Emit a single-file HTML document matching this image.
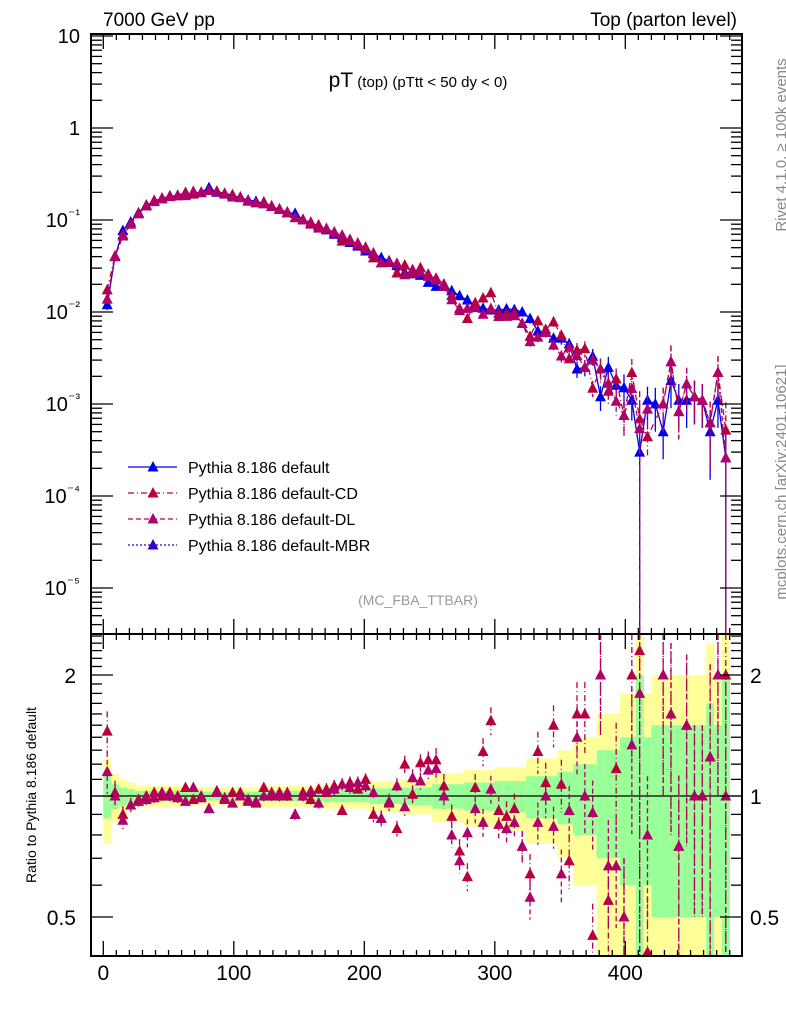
<!DOCTYPE html>
<html><head><meta charset="utf-8"><style>
html,body{margin:0;padding:0;background:#fff}
svg{display:block;font-family:"Liberation Sans",sans-serif}
</style></head><body>
<svg id="chart" width="786" height="1024" viewBox="0 0 786 1024">
<rect x="0" y="0" width="786" height="1024" fill="#fff"/>
<g id="ratioBands"></g>
<g id="mainMarks"></g>
<g id="ratioMarks"></g>
<g id="axes"></g>
<text x="103" y="26" font-size="19">7000 GeV pp</text>
<text x="737" y="26" font-size="19" text-anchor="end">Top (parton level)</text>
<text x="418" y="87" text-anchor="middle"><tspan font-size="21">pT</tspan><tspan font-size="15"> (top)  (pTtt &lt; 50 dy &lt; 0)</tspan></text>
<text x="418" y="605" text-anchor="middle" font-size="14" fill="#999">(MC_FBA_TTBAR)</text>
<text transform="translate(786,145) rotate(-90)" text-anchor="middle" font-size="15" fill="#888">Rivet 4.1.0, ≥ 100k events</text>
<text transform="translate(786,482) rotate(-90)" text-anchor="middle" font-size="15" fill="#888">mcplots.cern.ch [arXiv:2401.10621]</text>
<text transform="translate(36,795) rotate(-90)" text-anchor="middle" font-size="14">Ratio to Pythia 8.186 default</text>
<g id="legend"></g>
</svg>
<script>
const binCenters=[3,9,15,21,27,33,39,45,51,57,63,69,75,81,87,93,99,105,111,117,123,129,135,141,147,153,159,165,171,177,183,189,195,201,207,213,219,225,231,237,243,249,255,261,267,273,279,285,291,297,303,309,315,321,327,333,339,345,351,357,363,369,375,381,387,393,399,405,411,417,423,429,435,441,447,453,459,465,471,477];
const defaultValues=[0.012,0.04,0.077,0.095,0.12,0.145,0.16,0.17,0.18,0.185,0.19,0.195,0.2,0.225,0.2,0.195,0.185,0.175,0.165,0.16,0.15,0.14,0.13,0.12,0.118,0.1,0.092,0.085,0.078,0.07,0.064,0.057,0.052,0.046,0.043,0.039,0.036,0.032,0.027,0.026,0.025,0.021,0.019,0.019,0.017,0.015,0.0135,0.012,0.011,0.0105,0.0105,0.0108,0.0106,0.01,0.0085,0.0062,0.006,0.0052,0.0052,0.0045,0.0024,0.0025,0.0033,0.0012,0.0025,0.0016,0.0015,0.0011,0.0003,0.0011,0.001,0.0005,0.0018,0.0011,0.0011,0.0012,0.0011,0.0005,0.0011,0.00026];
const relErrors=[0.12,0.07,0.05,0.04,0.03,0.03,0.03,0.03,0.03,0.03,0.025,0.025,0.025,0.025,0.025,0.025,0.025,0.025,0.025,0.025,0.03,0.03,0.03,0.03,0.03,0.03,0.03,0.03,0.035,0.035,0.035,0.035,0.035,0.035,0.045,0.045,0.045,0.045,0.05,0.05,0.05,0.05,0.07,0.07,0.07,0.07,0.08,0.08,0.08,0.08,0.09,0.09,0.09,0.09,0.12,0.12,0.12,0.12,0.15,0.15,0.2,0.2,0.2,0.3,0.3,0.3,0.4,0.4,1.0,0.4,0.5,0.5,0.5,0.5,0.5,0.5,0.5,0.7,0.5,1.0];
const ratioCD=[1.45,1.02,0.9,0.95,0.98,1.0,1.02,1.0,1.02,1.0,1.05,0.98,1.0,0.93,1.03,0.99,1.02,1.02,0.97,0.96,1.05,1.0,1.02,1.0,0.9,1.02,0.98,1.04,1.02,1.06,0.92,1.08,1.04,1.1,0.9,0.88,0.96,0.83,1.2,1.01,1.21,1.23,1.23,1.06,0.89,0.73,0.63,1.05,1.29,1.54,0.92,0.89,0.93,0.75,0.64,1.29,1.08,1.5,1.07,0.69,1.6,1.6,0.45,2.0,0.55,1.17,0.5,2.0,2.3,0.4,null,2.0,1.6,0.75,1.5,1.0,1.0,1.25,2.0,2.0];
const ratioDL=[1.15,1.0,0.87,0.95,0.97,0.98,0.99,1.02,1.0,0.99,0.97,1.05,0.99,0.93,1.02,0.98,0.96,1.0,0.98,0.97,1.0,1.02,1.0,1.02,0.9,1.0,1.03,0.96,1.04,1.04,1.07,1.05,1.08,1.06,1.02,0.88,0.97,1.06,0.94,1.11,1.09,1.16,1.17,1.0,0.8,0.69,0.81,0.93,0.86,1.04,0.85,0.83,0.86,0.75,0.56,0.86,1.0,0.84,0.64,0.92,1.4,1.0,0.91,2.0,0.67,0.67,0.5,1.34,1.8,0.8,null,2.0,1.6,0.75,1.5,1.0,1.0,1.25,2.0,1.0];
const mainYTicks=["10","1","10\u207B\u00B9","10\u207B\u00B2","10\u207B\u00B3","10\u207B\u2074","10\u207B\u2075"];
const mainYTickValues=[10,1,0.1,0.01,0.001,0.0001,0.00001];
const ratioTickValues=[2,1,0.5];
const ratioTickLabels=["2","1","0.5"];
const xTickValues=[0,100,200,300,400];
const xTickLabels=["0","100","200","300","400"];

const NS="http://www.w3.org/2000/svg";
const L=91,R=742,T=34,MB=634,RB=956;
const X=v=>103.3+1.305*v;
const YM=v=>36+(1-Math.log10(v))*92;
const YR=v=>796-Math.log2(v)*121;
function mk(tag,attrs,parent){const e=document.createElementNS(NS,tag);for(const k in attrs)e.setAttribute(k,attrs[k]);parent.appendChild(e);return e;}
const axes=document.getElementById('axes'),mainG=document.getElementById('mainMarks'),ratioG=document.getElementById('ratioMarks'),bandG=document.getElementById('ratioBands'),legG=document.getElementById('legend');
const clampR=v=>Math.max(T,Math.min(MB,v));
const clampRR=v=>Math.max(MB,Math.min(RB,v));

for(let i=0;i<binCenters.length;i++){
  const x0=X(binCenters[i]-3),x1=X(binCenters[i]+3),e=relErrors[i];
  const yl=Math.max(0.01,1-2*e),yh=1+2*e,gl=Math.max(0.01,1-e),gh=1+e;
  const y1=clampRR(YR(yh)),y2=clampRR(YR(yl));
  const b=mk('rect',{x:x0,y:y1,width:x1-x0+0.3,height:y2-y1,fill:'#ffff99'},bandG);
  
  
  const g1=clampRR(YR(gh)),g2=clampRR(YR(gl));
  const g=mk('rect',{x:x0,y:g1,width:x1-x0+0.3,height:g2-g1,fill:'#99ff99'},bandG);
  
  
}
const one=mk('line',{x1:L,x2:R,y1:YR(1),y2:YR(1),stroke:'#000','stroke-width':1.3},bandG);



function tri(g,x,y,color,name){
  const t=mk('polygon',{points:`${x-5.5},${y+4.5} ${x+5.5},${y+4.5} ${x},${y-6}`,fill:color},g);
  
  
}
const series=[
 {name:'default',color:'#0000ee',dash:'',ratio:null},
 {name:'default-cd',color:'#b8003c',dash:'6,3,1,3',ratio:ratioCD},
 {name:'default-dl',color:'#b0006a',dash:'5,3',ratio:ratioDL}
];
series.forEach(s=>{
  const vals=defaultValues.map((v,i)=>s.ratio?(s.ratio[i]===null?null:v*s.ratio[i]):v);
  let pts=[];
  vals.forEach((v,i)=>{ if(v!==null){pts.push(X(binCenters[i])+','+clampR(YM(v)));} });
  const pl=mk('polyline',{points:pts.join(' '),fill:'none',stroke:s.color,'stroke-width':1.3,'stroke-dasharray':s.dash},mainG);
  
  
  vals.forEach((v,i)=>{
    if(v===null)return;
    const x=X(binCenters[i]),e=relErrors[i];
    const yt=clampR(YM(v*(1+e))),yb=e>=1?MB:clampR(YM(v*(1-e)));
    const eb=mk('line',{x1:x,x2:x,y1:yt,y2:yb,stroke:s.color,'stroke-width':1.3,'stroke-dasharray':s.dash},mainG);
    
    
    if(YM(v)<MB) tri(mainG,x,YM(v),s.color,s.name+'-point');
  });
  if(s.ratio){
    s.ratio.forEach((r,i)=>{
      if(r===null)return;
      const x=X(binCenters[i]),e=relErrors[i];
      const yt=clampRR(YR(r*(1+e))),yb=e>=1?RB:clampRR(YR(r*(1-e)));
      const eb=mk('line',{x1:x,x2:x,y1:yt,y2:yb,stroke:s.color,'stroke-width':1.3,'stroke-dasharray':s.dash},ratioG);
      
      
      const y=YR(r);
      if(y>=MB-2&&y<=RB+2) tri(ratioG,x,Math.max(MB+5,Math.min(RB-4,y)),s.color,s.name+'-ratio-point');
    });
  }
});

[[T,MB],[MB,RB]].forEach(([a,b])=>{
  const f=mk('rect',{x:L,y:a,width:R-L,height:b-a,fill:'none',stroke:'#000','stroke-width':2},axes);
  
  
});
for(let d=-6;d<=1;d++){
  for(let m=1;m<10;m++){
    const v=m*Math.pow(10,d);const y=YM(v);
    if(y<T||y>MB)continue;
    const len=m===1?22:11;
    mk('line',{x1:L,x2:L+len,y1:y,y2:y,stroke:'#000','stroke-width':1.3},axes);
    mk('line',{x1:R,x2:R-len,y1:y,y2:y,stroke:'#000','stroke-width':1.3},axes);
  }
}
mainYTickValues.forEach((v,i)=>{
  const lab=mainYTicks[i];
  const t=mk('text',{x:80,y:YM(v)+7,'text-anchor':'end','font-size':20},axes);
  if(lab.length>2){t.textContent='10';const ts=mk('tspan',{dy:-8,'font-size':14},t);ts.textContent=lab.slice(2);}
  else t.textContent=lab;
  
  
});
[0.4,0.5,0.6,0.7,0.8,0.9,1,1.1,1.2,1.3,1.4,1.5,1.6,1.7,1.8,1.9,2,2.1,2.2,2.3,2.4,2.5].forEach(v=>{
  const y=YR(v);if(y<MB||y>RB)return;
  const len=(v===0.5||v===1||v===2)?22:11;
  mk('line',{x1:L,x2:L+len,y1:y,y2:y,stroke:'#000','stroke-width':1.3},axes);
  mk('line',{x1:R,x2:R-len,y1:y,y2:y,stroke:'#000','stroke-width':1.3},axes);
});
ratioTickValues.forEach((v,i)=>{
  const t=mk('text',{x:76,y:YR(v)+8,'text-anchor':'end','font-size':21},axes);t.textContent=ratioTickLabels[i];
  
  
  const t2=mk('text',{x:750,y:YR(v)+8,'font-size':21},axes);t2.textContent=ratioTickLabels[i];
  
  
});
for(let v=0;v<=480;v+=10){
  const x=X(v);const maj=v%100===0;const len=maj?15:6;
  [[T,1],[MB,-1],[MB,1],[RB,-1]].forEach(([y,dir])=>mk('line',{x1:x,x2:x,y1:y,y2:y+dir*len,stroke:'#000','stroke-width':1.3},axes));
}
xTickValues.forEach((v,i)=>{
  const t=mk('text',{x:X(v),y:980,'text-anchor':'middle','font-size':21},axes);t.textContent=xTickLabels[i];
  
  
});
const legItems=[['Pythia 8.186 default','#0000ee',''],['Pythia 8.186 default-CD','#b8003c','6,3,1,3'],['Pythia 8.186 default-DL','#b0006a','5,3'],['Pythia 8.186 default-MBR','#3300cc','2,2']];
legItems.forEach((it,i)=>{
  const y=467+i*26;
  const l=mk('line',{x1:128,x2:177,y1:y,y2:y,stroke:it[1],'stroke-width':1.3,'stroke-dasharray':it[2]},legG);
  
  
  tri(legG,153,y,it[1],'legend-marker');
  const t=mk('text',{x:188,y:y+6,'font-size':16},legG);t.textContent=it[0];
  
  
});
</script>
</body></html>
